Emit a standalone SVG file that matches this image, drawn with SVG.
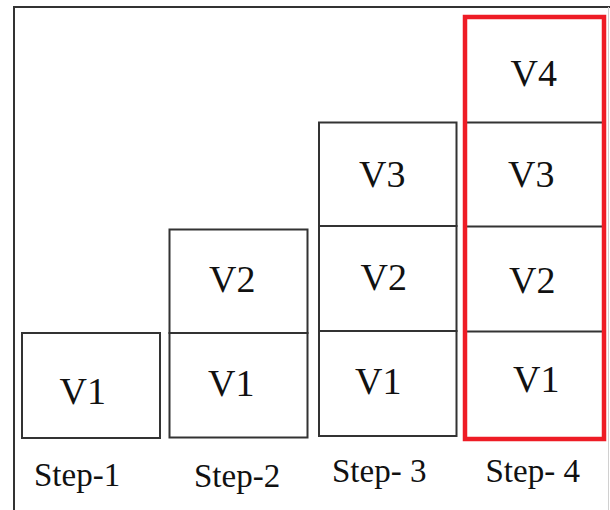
<svg xmlns="http://www.w3.org/2000/svg" width="610" height="510" viewBox="0 0 610 510">
  <style>
    .cell { fill: #ffffff; stroke: #333333; stroke-width: 2; }
    .sep { stroke: #333333; stroke-width: 2; }
    .v { font-family: "Liberation Serif", "Times New Roman", serif; font-size: 38px; fill: #111111; }
    .step { font-family: "Liberation Serif", "Times New Roman", serif; font-size: 33px; fill: #111111; }
    .hl { fill: none; stroke: #ee1c25; stroke-width: 4.5; }
  </style>

  <!-- page background and frame -->
  <rect x="0" y="0" width="610" height="510" fill="#ffffff"/>
  <path d="M14 510 V7 H610" fill="none" stroke="#333333" stroke-width="2"/>
  <line x1="608.5" y1="7" x2="608.5" y2="510" stroke="#d0d0d0" stroke-width="1"/>

  <!-- Step 1 -->
  <g id="step1">
    <g id="s1-v1">
      <rect class="cell" x="22" y="333" width="138" height="105"/>
      <text class="v" x="59.5" y="404">V1</text>
    </g>
    <text class="step" x="34" y="486">Step-1</text>
  </g>

  <!-- Step 2 -->
  <g id="step2">
    <g id="s2-v2">
      <rect class="cell" x="169.5" y="229.5" width="138" height="103.5"/>
      <text class="v" x="209" y="291.5">V2</text>
    </g>
    <g id="s2-v1">
      <rect class="cell" x="169.5" y="333" width="138" height="104.5"/>
      <text class="v" x="208" y="396">V1</text>
    </g>
    <text class="step" x="194" y="486.5">Step-2</text>
  </g>

  <!-- Step 3 -->
  <g id="step3">
    <g id="s3-v3">
      <rect class="cell" x="319" y="122.5" width="137.5" height="103.5"/>
      <text class="v" x="359" y="186.5">V3</text>
    </g>
    <g id="s3-v2">
      <rect class="cell" x="319" y="226" width="137.5" height="105"/>
      <text class="v" x="360.5" y="290">V2</text>
    </g>
    <g id="s3-v1">
      <rect class="cell" x="319" y="331" width="137.5" height="105"/>
      <text class="v" x="355" y="394">V1</text>
    </g>
    <text class="step" x="332" y="481.5">Step- 3</text>
  </g>

  <!-- Step 4 (highlighted) -->
  <g id="step4">
    <line class="sep" x1="465" y1="122.5" x2="604" y2="122.5"/>
    <line class="sep" x1="465" y1="226.5" x2="604" y2="226.5"/>
    <line class="sep" x1="465" y1="331.5" x2="604" y2="331.5"/>
    <g id="s4-v4"><text class="v" x="510.5" y="85.5">V4</text></g>
    <g id="s4-v3"><text class="v" x="508" y="186.5">V3</text></g>
    <g id="s4-v2"><text class="v" x="509" y="293">V2</text></g>
    <g id="s4-v1"><text class="v" x="513" y="391.5">V1</text></g>
    <rect class="hl" x="465" y="17" width="139" height="422"/>
    <text class="step" x="485.5" y="481.5">Step- 4</text>
  </g>
</svg>
